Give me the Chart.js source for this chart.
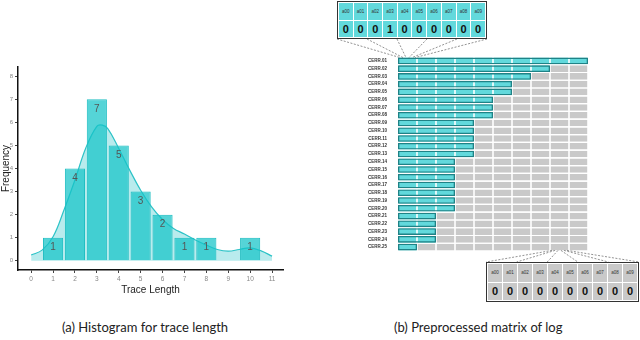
<!DOCTYPE html>
<html lang="en">
  <head>
    <meta charset="UTF-8" />
    <title>Trace length histogram and log matrix</title>
    <script src="https://cdn.jsdelivr.net/npm/chart.js"></script>
    <style>
      body { margin: 0; width: 640px; height: 340px; background: #fff; position: relative; overflow: hidden; }
      canvas { position: absolute; }
      #histChart { left: 0; top: 0; }
      #matrixChart { left: 320px; top: 0; }
      .box {
        position: absolute; box-sizing: border-box; border: 1.5px solid #333; background: #fff;
        display: grid; grid-template-columns: repeat(10, 1fr); grid-template-rows: 1fr 1fr;
        gap: 1px; padding: 1px; font-family: "Liberation Sans", sans-serif;
      }
      .box div { display: flex; align-items: center; justify-content: center; }
      .box .head { font-size: 4.5px; color: #333; }
      .box .val { font-size: 11px; font-weight: bold; color: #111; }
      #topBox { left: 337px; top: 1px; width: 150px; height: 38px; }
      #topBox div { background: #62d9dc; }
      #bottomBox { left: 486px; top: 262px; width: 153px; height: 40px; }
      #bottomBox div { background: #c9c9c9; }
      .caption { position: absolute; top: 319px; font-family: Lato, sans-serif; font-size: 13px; color: #222; }
    </style>
  </head>
  <body>
    <canvas id="histChart" width="300" height="300"></canvas>
    <canvas id="matrixChart" width="320" height="310"></canvas>
    <div id="topBox" class="box"></div>
    <div id="bottomBox" class="box"></div>
    <div class="caption" style="left: 62px;">(a) Histogram for trace length</div>
    <div class="caption" style="left: 394px;">(b) Preprocessed matrix of log</div>

    <script>
      // histogram data
      const traceLengths = [1, 2, 3, 4, 5, 6, 7, 8, 10];
      const frequencies = [1, 4, 7, 5, 3, 2, 1, 1, 1];
      const densityX = [0, 0.5, 1, 1.5, 2, 2.5, 3, 3.25, 3.5, 4, 4.5, 5, 5.5, 6, 6.5, 7, 7.5, 8, 8.5, 9, 9.5, 10, 10.5, 11];
      const densityY = [0.25, 0.46, 1.04, 2.2, 3.5, 4.9, 5.83, 5.88, 5.73, 4.87, 3.93, 3.06, 2.34, 1.79, 1.4, 1.16, 0.9, 0.68, 0.49, 0.42, 0.49, 0.56, 0.43, 0.2];
      const xTicks = [0, 1, 2, 3, 4, 5, 6, 7, 8, 9, 10, 11];
      const yTicks = [0, 1, 2, 3, 4, 5, 6, 7, 8];

      // matrix data
      const rowLabels = Array.from({ length: 25 }, (_, i) => "CERR." + String(i + 1).padStart(2, "0"));
      const rowLengths = [10, 8, 7, 6, 6, 5, 5, 5, 4, 4, 4, 4, 4, 3, 3, 3, 3, 3, 3, 3, 2, 2, 2, 2, 1];
      const columnIds = ["a00", "a01", "a02", "a03", "a04", "a05", "a06", "a07", "a08", "a09"];
      const topRowValues = [0, 0, 0, 1, 0, 0, 0, 0, 0, 0];
      const bottomRowValues = [0, 0, 0, 0, 0, 0, 0, 0, 0, 0];

      const cyan = "#62d9dc";
      const grey = "#c9c9c9";

      // numbers inside the top of each bar
      const barLabels = {
        id: "barLabels",
        afterDatasetsDraw(chart) {
          const ctx = chart.ctx;
          const meta = chart.getDatasetMeta(0);
          ctx.save();
          ctx.font = "10px 'Liberation Sans'";
          ctx.fillStyle = "#555";
          ctx.textAlign = "center";
          ctx.textBaseline = "middle";
          meta.data.forEach((bar, i) => {
            ctx.fillText(frequencies[i], bar.x, bar.y + 10);
          });
          ctx.restore();
        },
      };

      new Chart(document.getElementById("histChart"), {
        type: "bar",
        data: {
          datasets: [
            {
              type: "bar",
              data: traceLengths.map((x, i) => ({ x: x, y: frequencies[i] })),
              backgroundColor: "rgba(20, 196, 200, 0.72)",
              borderColor: "#22bfc3",
              borderWidth: 1,
              barPercentage: 0.92,
              categoryPercentage: 1,
              order: 1,
            },
            {
              type: "line",
              data: densityX.map((x, i) => ({ x: x, y: densityY[i] })),
              borderColor: "#2cc3c7",
              borderWidth: 1.2,
              backgroundColor: "rgba(60, 200, 205, 0.36)",
              fill: { value: 0 },
              tension: 0.4,
              pointRadius: 0,
              order: 2,
            },
          ],
        },
        options: {
          responsive: false,
          animation: false,
          layout: { padding: { top: 67, right: 17, left: 0, bottom: 0 } },
          plugins: { legend: { display: false }, tooltip: { enabled: false } },
          scales: {
            x: {
              type: "linear",
              min: -0.6,
              max: 11.5,
              offset: false,
              afterBuildTicks: (s) => { s.ticks = xTicks.map((v) => ({ value: v })); },
              afterFit: (s) => { s.height = 30; },
              grid: { drawOnChartArea: false, offset: false, tickLength: 3, tickColor: "#444" },
              border: { color: "#111", width: 1.5 },
              ticks: { font: { size: 6.5, family: "Liberation Sans" }, color: "#888", padding: 2, autoSkip: false, maxRotation: 0 },
              title: { display: true, text: "Trace Length", font: { size: 10, family: "Liberation Sans" }, color: "#222", padding: { top: 2, bottom: 4 } },
            },
            y: {
              min: -0.4,
              max: 8.4,
              afterBuildTicks: (s) => { s.ticks = yTicks.map((v) => ({ value: v })); },
              afterFit: (s) => { s.width = 18; },
              grid: { drawOnChartArea: false, tickLength: 3, tickColor: "#444" },
              border: { color: "#111", width: 1.5 },
              ticks: { font: { size: 6, family: "Liberation Sans" }, color: "#888", padding: 2 },
              title: { display: true, text: "Frequency", font: { size: 10, family: "Liberation Sans" }, color: "#222", padding: 0 },
            },
          },
        },
        plugins: [barLabels],
      });

      // dashed lines from the first / last cells to the zoom boxes
      const zoomLines = {
        id: "zoomLines",
        afterDraw(chart) {
          const ctx = chart.ctx;
          const xs = chart.scales.x;
          const ys = chart.scales.y;
          const half = (ys.getPixelForValue(1) - ys.getPixelForValue(0)) * 0.85 / 2;
          const offsetX = 320;
          ctx.save();
          ctx.strokeStyle = "#777";
          ctx.lineWidth = 0.8;
          ctx.setLineDash([2, 1.5]);
          // top box
          const topY = ys.getPixelForValue(0) - half;
          const a0 = xs.getPixelForValue(0), a1 = xs.getPixelForValue(1);
          for (let k = 0; k <= 5; k++) {
            ctx.beginPath();
            ctx.moveTo(337 + k * 30 - offsetX, 39);
            ctx.lineTo(a0 + 2 + (a1 - a0 - 4) * k / 5, topY);
            ctx.stroke();
          }
          // bottom box
          const botY = ys.getPixelForValue(rowLabels.length - 1) + half;
          const b0 = xs.getPixelForValue(8), b1 = xs.getPixelForValue(9);
          for (let k = 0; k <= 5; k++) {
            ctx.beginPath();
            ctx.moveTo(b0 + 2 + (b1 - b0 - 4) * k / 5, botY);
            ctx.lineTo(486 + k * 30.6 - offsetX, 262);
            ctx.stroke();
          }
          ctx.restore();
        },
      };

      const cellSets = columnIds.map((id, c) => ({
        label: id,
        data: rowLabels.map(() => 1),
        stack: "cells",
        grouped: false,
        backgroundColor: rowLengths.map((len) => (c < len ? cyan : grey)),
        borderColor: "#ffffff",
        borderWidth: { left: 0.8, right: 0.8, top: 0, bottom: 0 },
        borderSkipped: false,
        barPercentage: 0.85,
        categoryPercentage: 1,
        order: 1,
      }));

      new Chart(document.getElementById("matrixChart"), {
        type: "bar",
        data: {
          labels: rowLabels,
          datasets: cellSets.concat([
            {
              label: "length",
              data: rowLengths,
              stack: "outline",
              grouped: false,
              backgroundColor: "rgba(0,0,0,0)",
              borderColor: "#1f8286",
              borderWidth: 1.3,
              borderSkipped: false,
              barPercentage: 0.85,
              categoryPercentage: 1,
              order: 0,
            },
          ]),
        },
        options: {
          indexAxis: "y",
          responsive: false,
          animation: false,
          layout: { padding: { top: 57, right: 52, left: 0, bottom: 59 } },
          plugins: { legend: { display: false }, tooltip: { enabled: false } },
          scales: {
            x: { type: "linear", min: 0, max: 10, stacked: true, display: false },
            y: {
              afterFit: (s) => { s.width = 78; },
              grid: { display: false },
              border: { display: false },
              ticks: { font: { size: 4.5, weight: "bold", family: "Liberation Sans" }, color: "#333", padding: 3, autoSkip: false },
            },
          },
        },
        plugins: [zoomLines],
      });

      // zoom boxes
      function fillBox(el, values) {
        columnIds.forEach((id) => {
          const d = document.createElement("div");
          d.className = "head";
          d.textContent = id;
          el.appendChild(d);
        });
        values.forEach((v) => {
          const d = document.createElement("div");
          d.className = "val";
          d.textContent = v;
          el.appendChild(d);
        });
      }
      fillBox(document.getElementById("topBox"), topRowValues);
      fillBox(document.getElementById("bottomBox"), bottomRowValues);
    </script>
  </body>
</html>
